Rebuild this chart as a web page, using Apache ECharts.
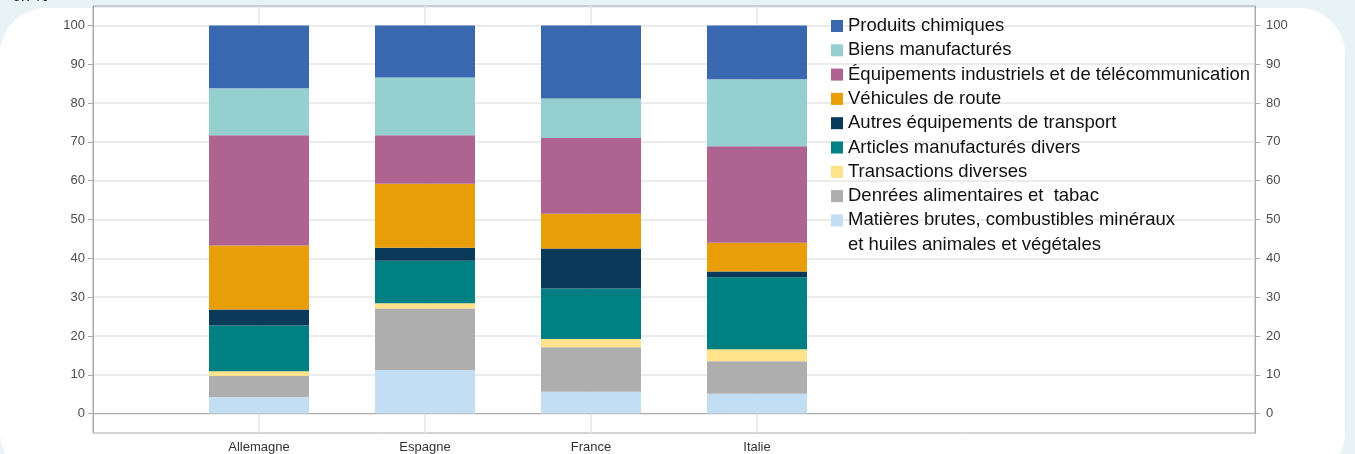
<!DOCTYPE html>
<html>
<head>
<meta charset="utf-8">
<script src="https://cdn.jsdelivr.net/npm/echarts@6/dist/echarts.min.js"></script>
<style>
	html, body { margin: 0; padding: 0; width: 1355px; height: 454px; overflow: hidden; background: #e8f3f5; }
	#card { position: absolute; left: 0; top: 8px; width: 1345px; height: 470px; background: #fff; border-radius: 46px; }
	#chart { position: absolute; left: 0; top: 0; width: 1355px; height: 454px; }
</style>
</head>
<body>
<div id="card"></div>
<div id="chart"></div>
<script>
// pays (les positions vides gardent la place à droite)
var countries = ['', 'Allemagne', 'Espagne', 'France', 'Italie', '', '', ''];
var yTicks = [0, 10, 20, 30, 40, 50, 60, 70, 80, 90, 100];

// parts en %, du bas de la colonne vers le haut
var matieresBrutes = [null, 4.3, 11.2, 5.6, 5.1];
var denrees        = [null, 5.4, 15.9, 11.5, 8.4];
var transactions   = [null, 1.2, 1.3, 2.1, 3.1];
var articlesDivers = [null, 11.8, 11.0, 13.0, 18.5];
var autresTransp   = [null, 4.1, 3.3, 10.3, 1.5];
var vehicules      = [null, 16.5, 16.5, 9.0, 7.4];
var equipements    = [null, 28.4, 12.5, 19.5, 24.9];
var biensManuf     = [null, 12.1, 14.9, 10.2, 17.2];
var chimiques      = [null, 16.2, 13.4, 18.8, 13.9];

var seriesDefs = [
	{name: 'Matières brutes, combustibles minéraux', data: matieresBrutes, color: '#c3ddf3'},
	{name: 'Denrées alimentaires et  tabac', data: denrees, color: '#afaeaf'},
	{name: 'Transactions diverses', data: transactions, color: '#ffe38a'},
	{name: 'Articles manufacturés divers', data: articlesDivers, color: '#008083'},
	{name: 'Autres équipements de transport', data: autresTransp, color: '#0a3a5a'},
	{name: 'Véhicules de route', data: vehicules, color: '#e89e07'},
	{name: 'Équipements industriels et de télécommunication', data: equipements, color: '#ae6390'},
	{name: 'Biens manufacturés', data: biensManuf, color: '#95cfcf'},
	{name: 'Produits chimiques', data: chimiques, color: '#3a68b0'}
];

var font = '"Liberation Sans", Arial, Helvetica, sans-serif';

var series = seriesDefs.map(function(s) {
	return {
		name: s.name,
		type: 'bar',
		stack: 'total',
		barWidth: 100,
		data: s.data,
		itemStyle: {color: s.color},
		emphasis: {disabled: true}
	};
});

var yAxisBase = function(pos, margin) {
	return {
		type: 'value',
		position: pos,
		min: -5,
		max: 105,
		axisLine: {show: true, lineStyle: {color: '#aaaaaa'}},
		axisTick: {show: true, length: 5, customValues: yTicks, lineStyle: {color: '#aaaaaa'}},
		axisLabel: {customValues: yTicks, margin: margin, color: '#4d4d4d', fontSize: 13, fontFamily: font},
		splitLine: {show: pos === 'left', lineStyle: {color: '#e4e4e4', width: 1.5}}
	};
};

var myChart = echarts.init(document.getElementById('chart'));
var option = {
	animation: false,
	textStyle: {fontFamily: font},
	grid: {
		left: 93, right: 100, top: 6, bottom: 20,
		show: true, borderColor: '#aaaaaa', borderWidth: 1
	},
	legend: {
		orient: 'vertical',
		left: 826,
		top: 11,
		icon: 'rect',
		itemWidth: 12,
		itemHeight: 12,
		itemGap: 4.3,
		selectedMode: false,
		data: seriesDefs.map(function(s) { return s.name; }).reverse(),
		textStyle: {fontSize: 18.5, color: '#111', lineHeight: 20, fontFamily: font}
	},
	graphic: [
		{type: 'text', left: 848, top: 235, style: {text: 'et huiles animales et végétales', fontSize: 18.5, fill: '#111', fontFamily: font}},
		{type: 'text', left: 12, top: -11, style: {text: 'en %', fontSize: 16, fill: '#222', fontFamily: font}}
	],
	xAxis: {
		type: 'category',
		boundaryGap: false,
		data: countries,
		axisLine: {show: true, lineStyle: {color: '#aaaaaa'}},
		axisTick: {show: false},
		axisLabel: {color: '#333', fontSize: 13, margin: 8, fontFamily: font},
		splitLine: {
			show: true,
			interval: function(idx, value) { return value !== ''; },
			lineStyle: {color: '#e4e4e4', width: 1.5}
		}
	},
	yAxis: [yAxisBase('left', 8), yAxisBase('right', 11)],
	series: series
};
myChart.setOption(option);
</script>
</body>
</html>
